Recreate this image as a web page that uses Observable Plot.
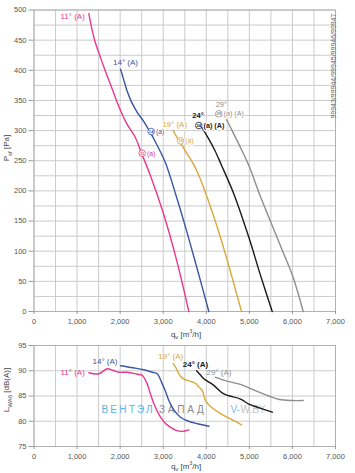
<!DOCTYPE html>
<html><head><meta charset="utf-8">
<script src="https://cdn.jsdelivr.net/npm/d3@7"></script>
<script src="https://cdn.jsdelivr.net/npm/@observablehq/plot@0.6"></script>
<style>
body{margin:0;background:#fff;width:355px;height:473px;position:relative;overflow:hidden;font-family:"Liberation Sans",Arial,sans-serif}
#top,#bot{position:absolute;left:0}
#top{top:0}#bot{top:341px}
.lab{position:absolute;font-size:8px;color:#444;white-space:nowrap;line-height:1}
.rot{transform:translate(-50%,-50%) rotate(-90deg)}
</style></head><body>
<div id="top"></div><div id="bot"></div>
<div class="lab rot" style="left:8px;top:148px">P<sub style="font-size:6px">sf</sub> [Pa]</div>
<div class="lab" style="left:186px;top:329px;transform:translateX(-50%)">q<sub style="font-size:6px">v</sub> [m<sup style="font-size:5px">3</sup>/h]</div>
<div class="lab rot" style="left:8px;top:390px">L<sub style="font-size:6px">WA6</sub> [dB(A)]</div>
<div class="lab" style="left:186px;top:461px;transform:translateX(-50%)">q<sub style="font-size:6px">v</sub> [m<sup style="font-size:5px">3</sup>/h]</div>
<script>
// ---- data: pressure curves [q m3/h, Psf Pa] ----
const p11 = [[1273,494],[1340,470],[1420,447],[1520,426],[1650,400],[1800,372],[1970,340],[2150,312],[2350,289],[2500,262],[2700,226],[3007,162],[3300,88],[3595,0]];
const p14 = [[2009,402],[2080,385],[2160,366],[2260,348],[2400,330],[2550,315],[2700,297],[2850,277],[3050,247],[3300,192],[3550,132],[3800,68],[4059,0]];
const p19 = [[3230,300],[3350,285],[3479,270],[3673,248],[3800,230],[3982,197],[4254,140],[4486,85],[4818,0]];
const p24 = [[3900,305],[4050,287],[4200,267],[4350,243],[4640,195],[4988,123],[5250,62],[5531,0]];
const p29 = [[4420,325],[4600,300],[4800,271],[5000,240],[5250,192],[5500,148],[5750,104],[6000,60],[6251,0]];
// ---- data: sound curves [q m3/h, LWA6 dB(A)] ----
const l11 = [[1273,89.6],[1505,89.4],[1700,90.4],[1830,90.1],[1970,89.7],[2164,89.7],[2400,89.3],[2512,89.1],[2628,87.4],[2700,85.5],[2782,83.5],[2937,80.8],[3060,79.5],[3169,78.8],[3300,78.2],[3440,78.0],[3595,78.3]];
const l14 = [[2009,91.0],[2300,90.6],[2550,90.2],[2750,89.7],[2860,89.4],[2977,87.4],[3050,86.0],[3131,84.1],[3250,82.2],[3402,80.8],[3557,80.1],[3800,79.5],[4059,79.0]];
const l19 = [[3231,91.4],[3300,90.5],[3363,89.4],[3450,88.5],[3557,88.1],[3673,87.8],[3750,87.5],[3827,86.8],[3905,86.1],[3982,84.1],[4100,82.9],[4331,81.5],[4600,80.3],[4818,79.3]];
const l24 = [[3773,90.0],[3860,89.2],[3943,88.4],[4175,87.1],[4408,85.4],[4795,84.4],[4988,83.4],[5250,82.6],[5531,81.8]];
const l29 = [[4214,88.7],[4500,87.9],[4795,87.3],[5183,85.9],[5450,85.0],[5700,84.3],[6000,84.1],[6251,84.1]];
// ---- labels / ticks ----
const angles = ["11°","14°","19°","24°","29°"];
const bladeNo = ["11","14","19","24","29"];
const colors = ["#e8378e","#3a55a4","#d8a93c","#1a1a1a","#8e8e8e"];
const xTicks = [0,1000,2000,3000,4000,5000,6000,7000];
const xGrid = d3.range(0,7001,500);
const yTicksTop = d3.range(0,501,50);
const yGridTop = d3.range(0,501,25);
const yTicksBot = [75,80,85,90,95];
const typeCode = "99943/99944/99945/99946/99947";
const watermark = ["ВЕНТЭЛ","ЗАПАД","V-","W.BY"];
const wmColors = ["#55b3e6","#8a8a8a","#7cc3ea","#c4c4c4"];

const FONT = '"Liberation Sans", Arial, sans-serif';
const X = d => d[0], Y = d => d[1];
const fmt = d3.format(",");

function base(yGrid, yTicks){
  return [
    Plot.ruleX(xGrid,{stroke:"#cbcbcb",strokeWidth:1}),
    Plot.ruleY(yGrid,{stroke:"#cbcbcb",strokeWidth:1}),
    Plot.frame({stroke:"#b0b0b0"}),
    Plot.axisX({ticks:xTicks,tickFormat:fmt,tickSize:3,tickPadding:4,label:null,stroke:"#999",fontSize:7.5}),
    Plot.axisY({ticks:yTicks,tickSize:5,tickPadding:2.5,label:null,stroke:"#999",fontSize:7.5})
  ];
}
function lines(arr){
  return arr.map((s,i)=>Plot.line(s,{x:X,y:Y,stroke:colors[i],strokeWidth:1.4,curve:"catmull-rom"}));
}
function lab(pt,text,i,opt){
  return Plot.text([pt],{x:X,y:Y,text:()=>text,fill:colors[i],fontSize:8,...opt});
}
const halo = {stroke:"white",strokeWidth:2.5};
function marker(pt,i,dx,dy,suffix,opt={}){
  return [
    Plot.dot([pt],{x:X,y:Y,r:3.3,fill:"white",stroke:colors[i],strokeWidth:0.8,dx,dy}),
    Plot.text([pt],{x:X,y:Y,text:()=>bladeNo[i],fill:colors[i],fontSize:4.2,dx,dy:dy+0.2,fontWeight:"bold"}),
    Plot.text([pt],{x:X,y:Y,text:()=>suffix,fill:colors[i],fontSize:6.8,textAnchor:"start",dx:dx+4.8,dy:dy+0.3,...halo,...opt})
  ];
}

const topSeries = [p11,p14,p19,p24,p29];
const topPlot = Plot.plot({
  width:355,height:341,marginLeft:33.5,marginRight:20,marginTop:9.5,marginBottom:30,
  style:{fontFamily:FONT,color:"#555",background:"transparent",overflow:"visible"},
  x:{domain:[0,7000]},y:{domain:[0,500]},
  marks:[
    ...base(yGridTop,yTicksTop),
    ...lines(topSeries),
    Plot.text([typeCode],{frameAnchor:"top-right",text:d=>d,rotate:-90,textAnchor:"end",dx:-4,dy:3.5,fontSize:7,fill:"#666"}),
    lab(p11[0],angles[0]+" (A)",0,{textAnchor:"end",dx:-4,dy:3}),
    lab(p14[0],angles[1]+" (A)",1,{textAnchor:"middle",dx:5,dy:-7}),
    lab(p19[0],angles[2]+" (A)",2,{textAnchor:"middle",dx:1.5,dy:-6.5,...halo}),
    lab(p24[0],angles[3],3,{textAnchor:"middle",dx:-4,dy:-12,fontWeight:"bold",fontSize:7.5}),
    lab(p29[0],angles[4],4,{textAnchor:"middle",dx:-3,dy:-11,fontSize:7.5}),
    ...marker(p11[9],0,0.5,-0.3,"(a)"),
    ...marker(p14[6],1,0.9,-0.9,"(a)"),
    ...marker(p19[1],2,2.2,1.2,"(a)"),
    ...marker(p24[0],3,-3.2,-2.1,"(a) (A)",{fontWeight:"bold",fontSize:7.2}),
    ...marker(p29[0],4,-5.6,-1.7,"(a) (A)",{fontSize:7.2})
  ]
});
document.getElementById("top").append(topPlot);

const wmDx = [67.5,125,196.5,206.5];
const botSeries = [l11,l14,l19,l24,l29];
const botPlot = Plot.plot({
  width:355,height:132,marginLeft:33.5,marginRight:20,marginTop:4,marginBottom:27,
  style:{fontFamily:FONT,color:"#555",background:"transparent",overflow:"visible"},
  x:{domain:[0,7000]},y:{domain:[75,95]},
  marks:[
    ...base(yTicksBot,yTicksBot),
    ...watermark.map((w,i)=>Plot.text([w],{frameAnchor:"left",text:d=>d,textAnchor:"start",dx:wmDx[i],dy:13.5,fontSize:10,fill:wmColors[i]})),
    ...lines(botSeries),
    lab(l11[0],angles[0]+" (A)",0,{textAnchor:"end",dx:-4,dy:0}),
    lab(l14[0],angles[1]+" (A)",1,{textAnchor:"end",dx:-3,dy:-4}),
    lab(l19[0],angles[2]+" (A)",2,{textAnchor:"middle",dx:-2.5,dy:-7}),
    lab(l24[0],angles[3]+" (A)",3,{textAnchor:"middle",dx:-1,dy:-6,fontWeight:"bold"}),
    lab(l29[0],angles[4]+" (A)",4,{textAnchor:"middle",dx:3.5,dy:-5})
  ]
});
d3.select(botPlot).selectAll("text").filter(function(){return this.textContent===watermark[0];}).attr("letter-spacing","2.2");
d3.select(botPlot).selectAll("text").filter(function(){return this.textContent===watermark[1];}).attr("letter-spacing","2.8");
document.getElementById("bot").append(botPlot);
</script>
</body></html>
